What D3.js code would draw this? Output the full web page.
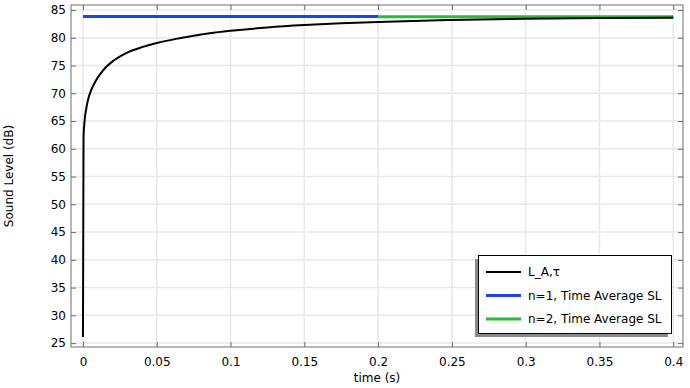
<!DOCTYPE html>
<html>
<head>
<meta charset="utf-8">
<script src="https://cdn.jsdelivr.net/npm/d3@7"></script>
<style>
  body { margin: 0; background: #fff; }
  text { font-family: "DejaVu Sans", sans-serif; font-size: 12px; fill: #000; }
</style>
</head>
<body>
<div id="chart"></div>
<script>
var width = 690,
    height = 388;

// L_A,tau curve
var timeS = [0, 0.0004, 0.0011, 0.0022, 0.0034, 0.0056, 0.009, 0.0135, 0.0203, 0.0293,
             0.0406, 0.05, 0.0632, 0.075, 0.0858, 0.1, 0.125, 0.15, 0.175, 0.2, 0.25, 0.3, 0.35, 0.4];
var laTau = [26.1, 62.2, 65.0, 67.2, 68.8, 70.6, 72.4, 74.1, 75.8, 77.25,
             78.35, 79.05, 79.8, 80.35, 80.8, 81.25, 81.85, 82.28, 82.6, 82.86, 83.2, 83.43, 83.55, 83.62];

// time averaged levels
var avgStart = [0, 0.2],
    avgEnd = [0.2, 0.4],
    avgLevel = [83.84, 83.77];

var xTicks = [0, 0.05, 0.1, 0.15, 0.2, 0.25, 0.3, 0.35, 0.4];
var yTicks = [25, 30, 35, 40, 45, 50, 55, 60, 65, 70, 75, 80, 85];
var legendNames = ["L_A,\u03c4", "n=1, Time Average SL", "n=2, Time Average SL"];

var colors = { la: "#000000", n1: "#1f44e6", n2: "#2bb83b", grid: "#e8e8e8", frame: "#6e6e6e" };

var margin = { left: 71, right: 7, top: 5, bottom: 41 },
    w = width - margin.left - margin.right,
    h = height - margin.top - margin.bottom;

var x = d3.scaleLinear().domain([-0.0081, 0.4066]).range([0, w]);
var y = d3.scaleLinear().domain([24.3, 85.9]).range([h, 0]);

var svg = d3.select("#chart").append("svg")
    .attr("width", width)
    .attr("height", height);

var g = svg.append("g")
    .attr("transform", "translate(" + margin.left + "," + margin.top + ")");

// grid
g.selectAll(".vgrid").data(xTicks).enter().append("line")
    .attr("x1", function(d) { return x(d); })
    .attr("x2", function(d) { return x(d); })
    .attr("y1", 0).attr("y2", h)
    .attr("stroke", colors.grid).attr("stroke-width", 1.5);

g.selectAll(".hgrid").data(yTicks).enter().append("line")
    .attr("y1", function(d) { return y(d); })
    .attr("y2", function(d) { return y(d); })
    .attr("x1", 0).attr("x2", w)
    .attr("stroke", colors.grid).attr("stroke-width", 1.5);

// axes, ticks pointing inward on all sides
function styleAxis(sel) {
  sel.select(".domain").remove();
  sel.selectAll(".tick line").attr("stroke", colors.frame);
  sel.selectAll(".tick text").style("font-family", "DejaVu Sans").style("font-size", "12px").attr("fill", "#000");
}

g.append("g").attr("transform", "translate(0," + h + ")")
    .call(d3.axisBottom(x).tickValues(xTicks).tickFormat(d3.format("~g")).tickSizeInner(-5).tickPadding(10))
    .call(styleAxis);
g.append("g")
    .call(d3.axisTop(x).tickValues(xTicks).tickFormat("").tickSizeInner(-5))
    .call(styleAxis);
g.append("g")
    .call(d3.axisLeft(y).tickValues(yTicks).tickSizeInner(-5).tickPadding(5))
    .call(styleAxis);
g.append("g").attr("transform", "translate(" + w + ",0)")
    .call(d3.axisRight(y).tickValues(yTicks).tickFormat("").tickSizeInner(-5))
    .call(styleAxis);

// frame
g.append("rect")
    .attr("x", 0).attr("y", 0).attr("width", w).attr("height", h)
    .attr("fill", "none").attr("stroke", colors.frame).attr("stroke-width", 1);

// lines
var line = d3.line()
    .x(function(d) { return x(d[0]); })
    .y(function(d) { return y(d[1]); })
    .curve(d3.curveMonotoneX);

g.append("path")
    .datum(avgStart.map(function(t) { return [t, avgLevel[0]]; }))
    .attr("d", line)
    .attr("fill", "none").attr("stroke", colors.n1).attr("stroke-width", 3);

g.append("path")
    .datum(avgEnd.map(function(t) { return [t, avgLevel[1]]; }))
    .attr("d", line)
    .attr("fill", "none").attr("stroke", colors.n2).attr("stroke-width", 3);

g.append("path")
    .datum(timeS.map(function(t, i) { return [t, laTau[i]]; }))
    .attr("d", line)
    .attr("fill", "none").attr("stroke", colors.la).attr("stroke-width", 2);

// axis titles
svg.append("text")
    .attr("x", margin.left + w / 2).attr("y", 382)
    .attr("text-anchor", "middle")
    .text("time (s)");

svg.append("text")
    .attr("transform", "translate(13," + (margin.top + h / 2) + ") rotate(-90)")
    .attr("text-anchor", "middle")
    .text("Sound Level (dB)");

// legend
var lx = 478, ly = 255, lw = 193, lh = 78;
svg.append("rect")
    .attr("x", lx - 3).attr("y", ly + 4).attr("width", lw).attr("height", lh)
    .attr("fill", "#8a8a8a");
svg.append("rect")
    .attr("x", lx + 0.5).attr("y", ly + 0.5).attr("width", lw).attr("height", lh)
    .attr("fill", "#fff").attr("stroke", "#000").attr("stroke-width", 1);

var legendColors = [colors.la, colors.n1, colors.n2],
    legendWidths = [2, 3, 3];

var items = svg.selectAll(".legend-item").data(legendNames).enter().append("g")
    .attr("transform", function(d, i) { return "translate(" + lx + "," + (ly + 17 + i * 23.5) + ")"; });

items.append("line")
    .attr("x1", 8).attr("x2", 43)
    .attr("stroke", function(d, i) { return legendColors[i]; })
    .attr("stroke-width", function(d, i) { return legendWidths[i]; });

items.append("text")
    .attr("x", 50).attr("dy", "0.35em")
    .text(function(d) { return d; });
</script>
</body>
</html>
